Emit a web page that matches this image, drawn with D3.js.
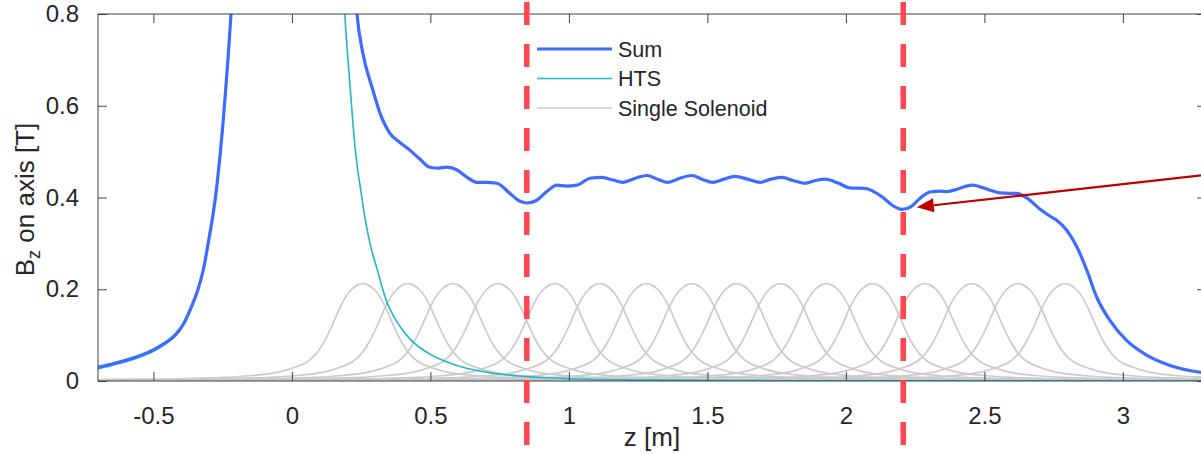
<!DOCTYPE html>
<html>
<head>
<meta charset="utf-8">
<script src="https://cdn.jsdelivr.net/npm/d3@7"></script>
<style>
  html, body { margin: 0; padding: 0; background: #fff; overflow: hidden; }
  text { font-family: "Liberation Sans", Arial, Helvetica, sans-serif; fill: #262626; }
</style>
</head>
<body>
<svg id="chart" width="1201" height="454"></svg>
<script>
// ---- axis ticks ----
const xTicks = [-0.5, 0, 0.5, 1, 1.5, 2, 2.5, 3];
const xTickLabels = ["-0.5", "0", "0.5", "1", "1.5", "2", "2.5", "3"];
const yTicks = [0, 0.2, 0.4, 0.6, 0.8];
const yTickLabels = ["0", "0.2", "0.4", "0.6", "0.8"];

// ---- total field on axis (T), left of the HTS coil ----
const sumLeftZ = [-0.70, -0.65, -0.60, -0.55, -0.50, -0.46, -0.42, -0.39, -0.36, -0.34, -0.32, -0.30, -0.285, -0.27, -0.26, -0.25, -0.24, -0.23, -0.22, -0.21];
const sumLeftB = [0.030, 0.037, 0.045, 0.055, 0.068, 0.082, 0.101, 0.126, 0.166, 0.198, 0.242, 0.308, 0.362, 0.430, 0.488, 0.553, 0.628, 0.708, 0.798, 0.900];

// ---- total field on axis (T), right of the HTS coil ----
const sumRightZ = [0.225, 0.235, 0.256, 0.289, 0.318, 0.354, 0.39, 0.426, 0.46, 0.498, 0.53, 0.56, 0.596, 0.63, 0.668, 0.70, 0.74, 0.787, 0.82, 0.848, 0.884, 0.92, 0.957, 0.99, 1.029, 1.076, 1.119, 1.16, 1.195, 1.24, 1.282, 1.32, 1.357, 1.40, 1.444, 1.48, 1.52, 1.56, 1.599, 1.645, 1.69, 1.73, 1.769, 1.81, 1.852, 1.89, 1.924, 1.97, 2.014, 2.069, 2.097, 2.134, 2.17, 2.202, 2.235, 2.267, 2.303, 2.34, 2.365, 2.401, 2.43, 2.458, 2.49, 2.52, 2.556, 2.59, 2.617, 2.653, 2.70, 2.74, 2.762, 2.798, 2.834, 2.87, 2.906, 2.953, 3.014, 3.087, 3.17, 3.278, 3.30];
const sumRightB = [0.880, 0.800, 0.715, 0.641, 0.584, 0.540, 0.520, 0.503, 0.485, 0.466, 0.464, 0.466, 0.460, 0.445, 0.433, 0.433, 0.431, 0.409, 0.393, 0.388, 0.394, 0.413, 0.427, 0.425, 0.427, 0.442, 0.444, 0.438, 0.433, 0.442, 0.448, 0.440, 0.433, 0.442, 0.448, 0.440, 0.433, 0.440, 0.446, 0.440, 0.433, 0.440, 0.444, 0.437, 0.431, 0.437, 0.440, 0.432, 0.421, 0.420, 0.414, 0.400, 0.382, 0.374, 0.380, 0.398, 0.412, 0.414, 0.413, 0.418, 0.424, 0.427, 0.422, 0.416, 0.410, 0.409, 0.409, 0.399, 0.375, 0.358, 0.350, 0.328, 0.292, 0.241, 0.182, 0.132, 0.088, 0.056, 0.034, 0.019, 0.017];

// ---- HTS coil field (T) ----
const htsLeftZ = [-0.70, -0.65, -0.60, -0.55, -0.50, -0.46, -0.42, -0.39, -0.36, -0.34, -0.32, -0.30, -0.285, -0.27, -0.26, -0.25, -0.24, -0.23, -0.22, -0.21];
const htsLeftB = [0.027, 0.034, 0.042, 0.052, 0.065, 0.079, 0.098, 0.123, 0.163, 0.195, 0.239, 0.305, 0.359, 0.427, 0.485, 0.550, 0.625, 0.705, 0.795, 0.897];
const htsRightZ = [0.185, 0.191, 0.200, 0.209, 0.218, 0.227, 0.236, 0.245, 0.255, 0.264, 0.28, 0.307, 0.343, 0.37, 0.401, 0.43, 0.462, 0.50, 0.534, 0.58, 0.617, 0.66, 0.704, 0.75, 0.798, 0.85, 0.90, 1.00, 1.20, 1.50, 2.00, 3.30];
const htsRightB = [0.880, 0.800, 0.720, 0.650, 0.580, 0.515, 0.468, 0.430, 0.390, 0.355, 0.305, 0.245, 0.172, 0.138, 0.110, 0.089, 0.073, 0.058, 0.048, 0.037, 0.030, 0.024, 0.019, 0.015, 0.012, 0.0095, 0.0075, 0.005, 0.0025, 0.0012, 0.0005, 0.0001];

// ---- single solenoid: centres (m) and field profile vs. distance from centre ----
const coilCenters = [0.256, 0.419, 0.581, 0.744, 0.949, 1.112, 1.28, 1.444, 1.606, 1.764, 1.93, 2.097, 2.285, 2.455, 2.621, 2.791];
const coilOffsets = [0, 0.02, 0.04, 0.06, 0.08, 0.10, 0.12, 0.14, 0.16, 0.18, 0.20, 0.25, 0.30, 0.35, 0.40, 0.50, 0.60, 0.80, 1.00, 1.50, 2.00, 3.00, 4.00];
const coilProfile = [0.212, 0.209, 0.200, 0.185, 0.163, 0.136, 0.109, 0.085, 0.066, 0.052, 0.042, 0.029, 0.020, 0.015, 0.012, 0.008, 0.006, 0.004, 0.003, 0.0015, 0.001, 0.0005, 0.0003];

// ---- module joints (dashed markers) and the arrow pointing at the dip ----
const jointZ = [0.848, 2.207];
const arrowTail = [3.35, 0.453];
const arrowTip = [2.256, 0.379];

const legendLabels = ["Sum", "HTS", "Single Solenoid"];

// ---- layout ----
const W = 1201, H = 454;
const plot = { left: 98, right: 1206, top: 14, bottom: 381 };

const svg = d3.select("#chart");
const x = d3.scaleLinear().domain([-0.7, 3.3]).range([plot.left, plot.right]);
const y = d3.scaleLinear().domain([0, 0.8]).range([plot.bottom, plot.top]);

svg.append("defs").append("clipPath").attr("id", "plotClip")
  .append("rect")
  .attr("x", plot.left).attr("y", plot.top)
  .attr("width", plot.right - plot.left).attr("height", plot.bottom - plot.top);

const zip = (zs, bs) => zs.map((z, i) => [z, bs[i]]);
const line = d3.line().x(d => x(d[0])).y(d => y(d[1])).curve(d3.curveMonotoneX);

const series = svg.append("g").attr("clip-path", "url(#plotClip)");

// single solenoids: the same profile placed at each centre
const coilPoints = c => {
  const pts = [];
  for (let i = coilOffsets.length - 1; i > 0; i--) pts.push([c - coilOffsets[i], coilProfile[i]]);
  for (let i = 0; i < coilOffsets.length; i++) pts.push([c + coilOffsets[i], coilProfile[i]]);
  return pts;
};
series.selectAll("path.coil").data(coilCenters).join("path")
  .attr("class", "coil")
  .attr("d", c => line(coilPoints(c)))
  .attr("fill", "none").attr("stroke", "#cbcbcb").attr("stroke-width", 1.7);

// HTS
[zip(htsLeftZ, htsLeftB), zip(htsRightZ, htsRightB)].forEach(pts => {
  series.append("path").attr("d", line(pts))
    .attr("fill", "none").attr("stroke", "#1bb8cf").attr("stroke-width", 1.6);
});

// Sum
[zip(sumLeftZ, sumLeftB), zip(sumRightZ, sumRightB)].forEach(pts => {
  series.append("path").attr("d", line(pts))
    .attr("fill", "none").attr("stroke", "#3d6cff").attr("stroke-width", 3.2)
    .attr("stroke-linejoin", "round");
});

// ---- axes (box with inward ticks) ----
const axisColor = "#404040";
const tickLen = 9;
const ax = svg.append("g");
ax.append("rect")
  .attr("x", plot.left).attr("y", plot.top)
  .attr("width", plot.right - plot.left).attr("height", plot.bottom - plot.top)
  .attr("fill", "none").attr("stroke", axisColor).attr("stroke-width", 1);

const bottomAxis = d3.axisBottom(x).tickValues(xTicks).tickSizeInner(-tickLen).tickSizeOuter(0)
  .tickPadding(tickLen + 17).tickFormat((d, i) => xTickLabels[i]);
const gx = ax.append("g").attr("transform", `translate(0,${plot.bottom})`).call(bottomAxis);
gx.select(".domain").remove();
gx.selectAll(".tick line").attr("stroke", axisColor);
gx.selectAll(".tick text").attr("font-size", 24).attr("fill", "#262626")
  .attr("font-family", "Liberation Sans, Arial, sans-serif");

const topAxis = d3.axisTop(x).tickValues(xTicks).tickSizeInner(-tickLen).tickSizeOuter(0).tickFormat("");
const gt = ax.append("g").attr("transform", `translate(0,${plot.top})`).call(topAxis);
gt.select(".domain").remove();
gt.selectAll(".tick line").attr("stroke", axisColor);

const leftAxis = d3.axisLeft(y).tickValues(yTicks).tickSizeInner(-tickLen).tickSizeOuter(0)
  .tickPadding(tickLen + 10).tickFormat((d, i) => yTickLabels[i]);
const gy = ax.append("g").attr("transform", `translate(${plot.left},0)`).call(leftAxis);
gy.select(".domain").remove();
gy.selectAll(".tick line").attr("stroke", axisColor);
gy.selectAll(".tick text").attr("font-size", 24).attr("fill", "#262626")
  .attr("font-family", "Liberation Sans, Arial, sans-serif");

const rightAxis = d3.axisRight(y).tickValues(yTicks).tickSizeInner(-tickLen).tickSizeOuter(0).tickFormat("");
const gr = ax.append("g").attr("transform", `translate(${plot.right},0)`).call(rightAxis);
gr.select(".domain").remove();
gr.selectAll(".tick line").attr("stroke", axisColor);

// axis titles
svg.append("text")
  .attr("x", (plot.left + plot.right) / 2).attr("y", 446)
  .attr("text-anchor", "middle").attr("font-size", 26)
  .text("z [m]");

const yTitle = svg.append("text")
  .attr("transform", `translate(34,${(plot.top + plot.bottom) / 2 + 2}) rotate(-90)`)
  .attr("text-anchor", "middle").attr("font-size", 26);
yTitle.append("tspan").text("B");
yTitle.append("tspan").attr("font-size", 18).attr("dy", 6).text("z");
yTitle.append("tspan").attr("dy", -6).text(" on axis [T]");

// ---- legend ----
const legendStyles = [
  { color: "#3d6cff", width: 3.2 },
  { color: "#1bb8cf", width: 1.6 },
  { color: "#cbcbcb", width: 1.7 }
];
const lg = svg.append("g").attr("transform", "translate(537,49)");
legendLabels.forEach((label, i) => {
  const row = lg.append("g").attr("transform", `translate(0,${i * 29.5})`);
  row.append("line").attr("x1", 0).attr("x2", 75).attr("y1", 0).attr("y2", 0)
    .attr("stroke", legendStyles[i].color).attr("stroke-width", legendStyles[i].width);
  row.append("text").attr("x", 81).attr("y", 0).attr("dy", "0.35em")
    .attr("font-size", 21.5).attr("fill", "#333").text(label);
});

// ---- dashed joint markers ----
svg.selectAll("line.joint").data(jointZ).join("line")
  .attr("class", "joint")
  .attr("x1", d => x(d)).attr("x2", d => x(d))
  .attr("y1", 2).attr("y2", H)
  .attr("stroke", "#ff4650").attr("stroke-width", 5.5)
  .attr("stroke-dasharray", "23 19");

// ---- arrow ----
const ax0 = x(arrowTail[0]), ay0 = y(arrowTail[1]);
const ax1 = x(arrowTip[0]), ay1 = y(arrowTip[1]);
const ang = Math.atan2(ay1 - ay0, ax1 - ax0);
const headLen = 17, headHalf = 7;
const bx = ax1 - headLen * Math.cos(ang), by = ay1 - headLen * Math.sin(ang);
svg.append("line")
  .attr("x1", ax0).attr("y1", ay0).attr("x2", bx).attr("y2", by)
  .attr("stroke", "#c00000").attr("stroke-width", 2.2);
svg.append("path")
  .attr("d", `M${ax1},${ay1} L${bx + headHalf * Math.sin(ang)},${by - headHalf * Math.cos(ang)} L${bx - headHalf * Math.sin(ang)},${by + headHalf * Math.cos(ang)} Z`)
  .attr("fill", "#c00000");
</script>
</body>
</html>
